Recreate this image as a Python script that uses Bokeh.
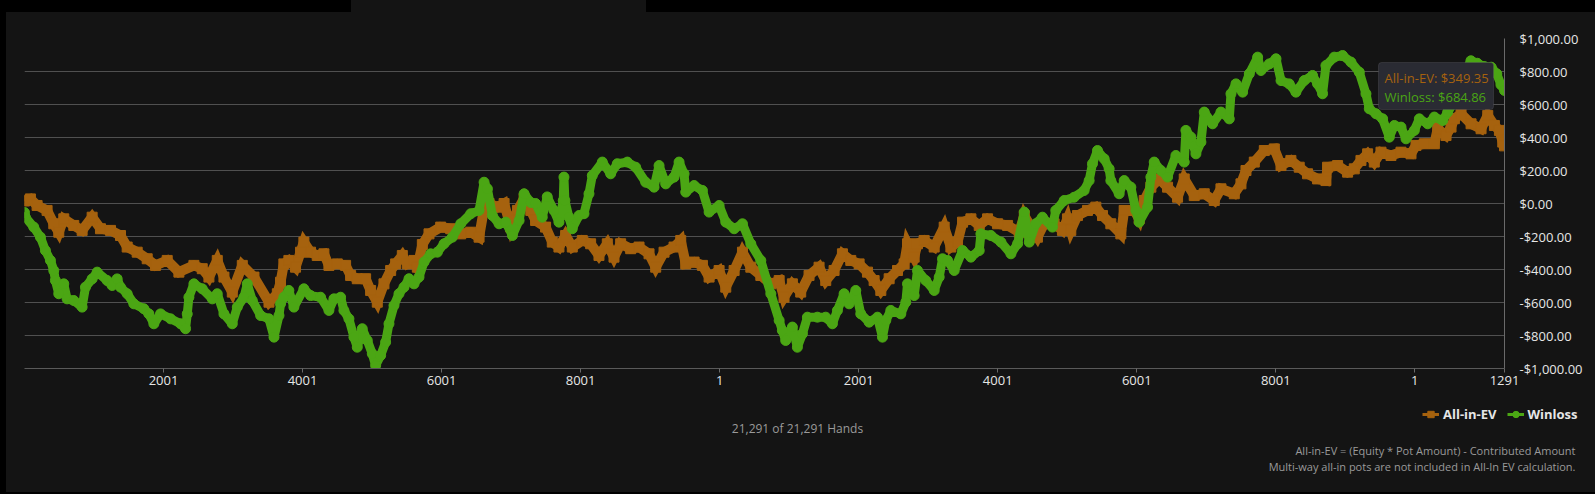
from bokeh.plotting import figure
from bokeh.layouts import column
from bokeh.models import (Range1d, FixedTicker, NumeralTickFormatter, Legend, LegendItem,
                          Label, BoxAnnotation, ColumnDataSource)
from bokeh.embed import file_html
from bokeh.resources import INLINE

# ---------------- data ----------------
ev_hands = [1, 14, 86, 182, 326, 422, 494, 566, 710, 830,
            974, 1094, 1238, 1382, 1478, 1622, 1766, 1886, 2054, 2222,
            2438, 2558, 2654, 2774, 2870, 2990, 3134, 3302, 3518, 3638,
            3684, 3732, 3804, 3900, 3972, 4020, 4116, 4212, 4308, 4380,
            4500, 4620, 4692, 4788, 4908, 4980, 5076, 5172, 5268, 5340,
            5436, 5508, 5604, 5652, 5724, 5820, 5988, 6132, 6276, 6420,
            6540, 6612, 6684, 6804, 6900, 6996, 7092, 7188, 7284, 7353,
            7497, 7593, 7689, 7785, 7881, 8025, 8145, 8265, 8385, 8481,
            8577, 8721, 8841, 8985, 9081, 9201, 9345, 9441, 9513, 9633,
            9753, 9849, 9993, 10089, 10209, 10329, 10449, 10593, 10737, 10857,
            10927, 11047, 11167, 11287, 11431, 11527, 11647, 11767, 11887, 12007,
            12127, 12223, 12319, 12439, 12559, 12655, 12703, 12799, 12847, 12943,
            13087, 13231, 13327, 13423, 13495, 13615, 13735, 13855, 13999, 14143,
            14311, 14383, 14479, 14572, 14668, 14812, 14932, 15004, 15052, 15148,
            15292, 15412, 15508, 15628, 15772, 15820, 15964, 16036, 16108, 16204,
            16324, 16444, 16588, 16684, 16828, 16972, 17116, 17212, 17404, 17500,
            17572, 17692, 17836, 17980, 18076, 18218, 18338, 18458, 18602, 18722,
            18746, 18890, 19034, 19130, 19226, 19322, 19418, 19514, 19658, 19802,
            19946, 20018, 20138, 20282, 20330, 20450, 20522, 20570, 20666, 20810,
            20954, 21050, 21146, 21218, 21266, 21291]
ev_values = [15, 20, 28, -12, -42, -123, -174, -93, -133, -163,
             -83, -153, -163, -194, -264, -295, -335, -375, -345, -416,
             -375, -395, -446, -345, -446, -537, -375, -446, -598, -547,
             -477, -366, -345, -386, -295, -234, -295, -315, -305, -375,
             -366, -375, -436, -456, -456, -527, -598, -487, -406, -366,
             -315, -366, -345, -386, -249, -184, -143, -153, -184, -174,
             -204, -30, 0, -22, 0, -143, -42, 30, -42, -103,
             -143, -234, -264, -194, -264, -224, -244, -315, -244, -325,
             -244, -274, -264, -305, -386, -295, -264, -224, -366, -355,
             -375, -446, -406, -507, -406, -295, -386, -436, -487, -467,
             -568, -487, -537, -436, -386, -467, -406, -305, -345, -366,
             -416, -467, -527, -456, -406, -366, -244, -325, -244, -224,
             -264, -143, -264, -234, -113, -93, -133, -93, -123, -133,
             -174, -73, -143, -204, -123, -123, -163, -93, -163, -73,
             -42, -22, -73, -123, -184, -42, -42, -93, 18, 99,
             149, 99, 38, 149, 48, 59, 18, 89, 59, 119,
             200, 251, 321, 331, 230, 261, 220, 180, 149, 139,
             220, 230, 190, 210, 261, 301, 251, 311, 291, 311,
             301, 352, 362, 362, 453, 412, 463, 514, 544, 483,
             453, 534, 473, 443, 372, 349.35]

wl_hands = [1, 14, 134, 230, 302, 374, 422, 446, 494, 566,
            614, 710, 830, 878, 974, 1046, 1190, 1262, 1334, 1382,
            1478, 1574, 1718, 1790, 1862, 1958, 2102, 2246, 2318, 2342,
            2366, 2438, 2558, 2702, 2774, 2870, 2990, 3062, 3158, 3206,
            3278, 3398, 3518, 3590, 3662, 3684, 3732, 3804, 3876, 4020,
            4116, 4260, 4380, 4452, 4548, 4596, 4668, 4740, 4788, 4860,
            4932, 5004, 5052, 5124, 5196, 5244, 5316, 5388, 5460, 5532,
            5604, 5676, 5748, 5844, 5940, 6036, 6156, 6276, 6420, 6540,
            6612, 6660, 6732, 6828, 6924, 7020, 7116, 7188, 7284, 7353,
            7449, 7521, 7617, 7689, 7751, 7761, 7775, 7833, 7881, 7977,
            8049, 8121, 8169, 8313, 8433, 8529, 8673, 8793, 8937, 9057,
            9129, 9225, 9345, 9417, 9489, 9513, 9633, 9753, 9849, 9993,
            10089, 10209, 10329, 10449, 10593, 10737, 10857, 10903, 10951, 11047,
            11119, 11191, 11263, 11407, 11527, 11623, 11695, 11791, 11863, 11959,
            12031, 12151, 12271, 12343, 12391, 12463, 12607, 12679, 12703, 12799,
            12847, 12967, 13087, 13159, 13207, 13279, 13375, 13495, 13615, 13735,
            13759, 13903, 14047, 14191, 14287, 14383, 14455, 14548, 14644, 14788,
            14836, 14956, 15100, 15244, 15316, 15364, 15436, 15532, 15604, 15628,
            15748, 15820, 15916, 15988, 16036, 16156, 16204, 16252, 16348, 16444,
            16564, 16684, 16708, 16780, 16852, 16924, 16972, 17092, 17212, 17332,
            17356, 17428, 17524, 17620, 17740, 17788, 17908, 18004, 18076, 18194,
            18290, 18410, 18530, 18602, 18674, 18722, 18842, 18962, 19082, 19202,
            19298, 19346, 19442, 19538, 19634, 19706, 19802, 19874, 19994, 20066,
            20186, 20282, 20402, 20474, 20600, 20700, 20808, 20900, 21000, 21100,
            21180, 21240, 21291]
wl_values = [-55, -83, -143, -204, -285, -345, -406, -467, -547, -487,
             -578, -588, -628, -507, -457, -416, -467, -497, -457, -507,
             -547, -608, -638, -669, -729, -669, -699, -729, -759, -669,
             -568, -487, -517, -578, -547, -669, -729, -628, -568, -487,
             -588, -679, -699, -810, -679, -608, -568, -527, -628, -517,
             -558, -568, -648, -578, -568, -648, -699, -810, -871, -759,
             -830, -911, -982, -921, -840, -729, -618, -547, -507, -456,
             -487, -446, -355, -305, -295, -244, -204, -123, -62, -42,
             129, 89, -73, -123, -113, -194, -103, 59, 6, 0,
             -83, 40, -42, -113, 18, 160, 18, -83, -153, -73,
             -62, 59, 170, 251, 180, 241, 251, 220, 129, 99,
             230, 119, 160, 251, 180, 69, 109, 79, -52, -12,
             -113, -153, -123, -244, -345, -547, -709, -770, -830, -749,
             -871, -790, -689, -689, -689, -729, -648, -547, -608, -527,
             -669, -719, -689, -810, -709, -648, -669, -598, -487, -558,
             -406, -467, -527, -446, -335, -345, -406, -285, -325, -285,
             -184, -194, -234, -305, -244, -52, -234, -123, -83, -143,
             -42, 18, 38, 79, 139, 241, 321, 271, 210, 139,
             59, 139, 99, -42, -113, -22, 160, 251, 200, 160,
             291, 251, 443, 402, 301, 372, 554, 483, 554, 513,
             665, 725, 675, 786, 887, 806, 846, 877, 745, 725,
             675, 745, 776, 725, 665, 836, 887, 897, 857, 796,
             665, 574, 544, 513, 402, 473, 463, 392, 443, 513,
             483, 524, 503, 554, 640, 780, 865, 850, 830, 826,
             786, 720, 684.86]

x_ticks = [2001, 4001, 6001, 8001, 10001, 12001, 14001, 16001, 18001, 20001, 21291]
x_tick_labels = ["2001", "4001", "6001", "8001", "1", "2001", "4001", "6001", "8001", "1", "1291"]
y_ticks = [-1000, -800, -600, -400, -200, 0, 200, 400, 600, 800, 1000]
total_hands = 21291
series_names = ["All-in-EV", "Winloss"]
footnotes = ["All-in-EV = (Equity * Pot Amount) - Contributed Amount",
             "Multi-way all-in pots are not included in All-In EV calculation."]

# ---------------- styling ----------------
FONT = "Open Sans"
BG = "#141414"
EV_COLOR = "#a6620e"
WL_COLOR = "#4ba614"
GRID = "#505050"
LABEL = "#e6e6e6"
NOTE = "#9a9a9a"
W = 1589
FOOT_H = 94

p = figure(frame_width=1480, frame_height=330,
           x_range=Range1d(1, total_hands), y_range=Range1d(-1000, 1000),
           y_axis_location="right", output_backend="svg", toolbar_location=None,
           min_border_left=18, min_border_top=26, min_border_right=91, min_border_bottom=30,
           background_fill_color=BG, border_fill_color=BG, outline_line_color=None,
           frame_align=False)

p.xgrid.visible = False
p.ygrid.ticker = FixedTicker(ticks=y_ticks)
p.ygrid.grid_line_color = GRID
p.ygrid.grid_line_width = 1

ya = p.yaxis[0]
ya.ticker = FixedTicker(ticks=y_ticks)
ya.formatter = NumeralTickFormatter(format="$0,0.00")
ya.axis_line_color = "#6a6a6a"
ya.major_tick_line_color = None
ya.minor_tick_line_color = None
ya.major_label_standoff = 9
ya.major_label_text_color = LABEL
ya.major_label_text_font = FONT
ya.major_label_text_font_size = "13px"

xa = p.xaxis[0]
xa.ticker = FixedTicker(ticks=x_ticks)
xa.major_label_overrides = {t: s for t, s in zip(x_ticks, x_tick_labels)}
xa.axis_line_color = "#5a5a5a"
xa.major_tick_line_color = "#6a6a6a"
xa.major_tick_out = 4
xa.major_tick_in = 0
xa.minor_tick_line_color = None
xa.major_label_standoff = 3
xa.major_label_text_color = LABEL
xa.major_label_text_font = FONT
xa.major_label_text_font_size = "13px"

ev_src = ColumnDataSource(dict(hand=ev_hands, value=ev_values))
wl_src = ColumnDataSource(dict(hand=wl_hands, value=wl_values))

# All-in-EV band
p.line("hand", "value", source=ev_src, line_color=EV_COLOR, line_width=10, line_join="miter")
p.scatter("hand", "value", source=ev_src, marker="square", size=10,
          fill_color=EV_COLOR, line_color=EV_COLOR)
# Winloss band
p.line("hand", "value", source=wl_src, line_color=WL_COLOR, line_width=9, line_join="round")
p.scatter("hand", "value", source=wl_src, marker="circle", size=10,
          fill_color=WL_COLOR, line_color=WL_COLOR)

# tooltip
p.add_layout(BoxAnnotation(left=1354, right=1469, bottom=259, top=306,
                           left_units="screen", right_units="screen",
                           bottom_units="screen", top_units="screen",
                           fill_color="#2a2b33", fill_alpha=1.0,
                           line_color="#62636b", line_width=1, border_radius=3))
p.add_layout(Label(x=1360, y=291, x_units="screen", y_units="screen",
                   text=f"{series_names[0]}: ${ev_values[-1]:,.2f}", text_align="left",
                   text_baseline="middle", text_font=FONT, text_font_size="13px",
                   text_color=EV_COLOR))
p.add_layout(Label(x=1360, y=272, x_units="screen", y_units="screen",
                   text=f"{series_names[1]}: ${wl_values[-1]:,.2f}", text_align="left",
                   text_baseline="middle", text_font=FONT, text_font_size="13px",
                   text_color=WL_COLOR))

# ---------------- footer (legend + notes), pixel-mapped ranges ----------------
f = figure(frame_width=W, frame_height=FOOT_H, x_range=Range1d(0, W), y_range=Range1d(0, FOOT_H),
           x_axis_type=None, y_axis_type=None, output_backend="svg", toolbar_location=None,
           min_border=0, background_fill_color=BG, border_fill_color=BG,
           outline_line_color=None, frame_align=False)
f.grid.visible = False

# legend proxies (no visible data: NaN coordinates)
nan = float("nan")
ev_leg_line = f.line(x=[nan], y=[nan], line_color=EV_COLOR, line_width=3)
ev_leg_pt = f.scatter(x=[nan], y=[nan], marker="square", size=8,
                      fill_color=EV_COLOR, line_color=EV_COLOR)
wl_leg_line = f.line(x=[nan], y=[nan], line_color=WL_COLOR, line_width=3)
wl_leg_pt = f.scatter(x=[nan], y=[nan], marker="circle", size=8,
                      fill_color=WL_COLOR, line_color=WL_COLOR)

legend = Legend(items=[LegendItem(label=series_names[0], renderers=[ev_leg_line, ev_leg_pt]),
                       LegendItem(label=series_names[1], renderers=[wl_leg_line, wl_leg_pt])],
                orientation="horizontal", location=(1416, 69),
                background_fill_alpha=0, border_line_color=None,
                label_text_color=LABEL, label_text_font=FONT, label_text_font_style="bold",
                label_text_font_size="13px", glyph_width=17, glyph_height=16,
                label_height=16, label_standoff=4, spacing=10, padding=0, margin=0)
f.add_layout(legend)

f.add_layout(Label(x=797 - 6, y=FOOT_H - (428 - 398),
                   text=f"{total_hands:,} of {total_hands:,} Hands",
                   text_align="center", text_baseline="middle", text_font=FONT,
                   text_font_size="12px", text_color=NOTE))
for i, note in enumerate(footnotes):
    f.add_layout(Label(x=1575 - 6, y=FOOT_H - (450 - 398) - 16 * i,
                       text=note, text_align="right", text_baseline="middle",
                       text_font=FONT, text_font_size="11px", text_color=NOTE))

layout = column(p, f, spacing=0)

css = ("<style>html{margin:0 !important;padding:0 !important;background:#000000 !important;"
       "overflow:hidden !important;}"
       "body{margin:12px 0 0 6px !important;padding:0 !important;background:#141414 !important;"
       "height:480px !important;width:1589px !important;overflow:hidden !important;}"
       "body::before{content:'';position:absolute;left:351px;top:0;width:295px;height:12px;"
       "background:#141414;}</style>")
html = file_html(layout, INLINE).replace("</head>", css + "</head>", 1)
open("out.html", "w").write(html)
